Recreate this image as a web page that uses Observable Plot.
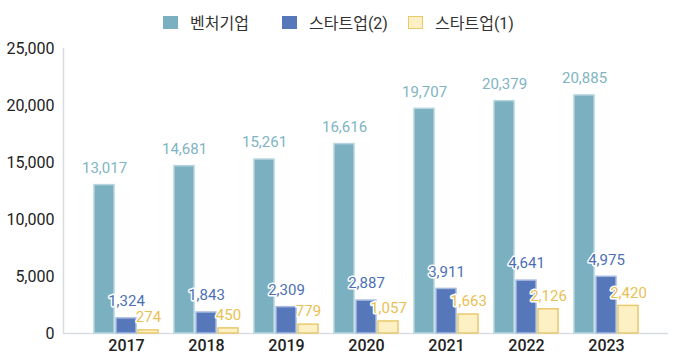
<!DOCTYPE html>
<html><head><meta charset="utf-8">
<script src="https://cdn.jsdelivr.net/npm/d3@7"></script>
<script src="https://cdn.jsdelivr.net/npm/@observablehq/plot@0.6"></script>
<style>
body{margin:0;background:#fff;font-family:Roboto,"Noto Sans CJK KR",sans-serif;}
#legend{height:38px;position:relative;font-size:16px;color:#333;}
.item{position:absolute;top:10px;display:flex;align-items:center;}
.sw{width:15px;height:13px;margin-right:12px;box-sizing:border-box;}
svg g[aria-label="y-axis tick label"] text{font-size:16px;}
svg g[aria-label="x-axis tick label"] text{font-size:16px;font-weight:500;}
</style></head>
<body>
<div id="legend"></div>
<div id="chart"></div>
<script>
const years = ["2017","2018","2019","2020","2021","2022","2023"];
const seriesNames = ["벤처기업","스타트업(2)","스타트업(1)"];
const venture = [13017,14681,15261,16616,19707,20379,20885];
const startup2 = [1324,1843,2309,2887,3911,4641,4975];
const startup1 = [274,450,779,1057,1663,2126,2420];
const yTicks = [0,5000,10000,15000,20000,25000];

const fills = ["#7ab0bf","#5677b9","#fcf0c4"];
const strokes = ["#b7d5de","#a6badf","#e9c96c"];
const labelColors = ["#7fb4c3","#4d70b4","#e9bf55"];

const legendX = [163,282,408];
const legend = document.getElementById("legend");
seriesNames.forEach((n,i)=>{
  const it=document.createElement("div");it.className="item";it.style.left=legendX[i]+"px";
  const sw=document.createElement("div");sw.className="sw";sw.style.background=fills[i];
  sw.style.border="1.5px solid "+(i==2?strokes[2]:fills[i]);
  const t=document.createElement("span");t.textContent=n;
  it.appendChild(sw);it.appendChild(t);legend.appendChild(it);
});

const data = [venture,startup2,startup1].map(arr=>years.map((y,i)=>({year:y,value:arr[i]})));
const insets = [[8,52],[30,30],[52,8]];
const dxs = [-22,0,22];
const dys = [-17,-17,-13];
const fmt = d3.format(",");

const marks = [
  Plot.ruleY([0],{stroke:"#d8dde2",strokeWidth:1.5}),
  Plot.frame({anchor:"left",stroke:"#d8dde2",strokeWidth:1.5})
];
data.forEach((d,i)=>{
  marks.push(Plot.barY(d,{x:"year",y:"value",fill:fills[i],stroke:strokes[i],strokeWidth:1.5,
    insetLeft:insets[i][0],insetRight:insets[i][1]}));
});
data.forEach((d,i)=>{
  marks.push(Plot.text(d,{x:"year",y:"value",text:d=>fmt(d.value),dx:dxs[i],dy:dys[i],
    fill:labelColors[i],stroke:"white",strokeWidth:3,fontSize:15,lineAnchor:"middle"}));
});

const chart = Plot.plot({
  width:680,height:320,
  marginLeft:63,marginRight:12,marginTop:10,marginBottom:25,
  style:{fontFamily:'Roboto,"Noto Sans CJK KR",sans-serif',fontSize:"15px",color:"#222",background:"white"},
  x:{domain:years,paddingInner:0,paddingOuter:0.26,label:null,tickSize:0,tickPadding:6},
  y:{domain:[0,25000],ticks:yTicks,tickFormat:fmt,label:null,tickSize:0,tickPadding:9},
  marks
});
document.getElementById("chart").appendChild(chart);
</script>
</body></html>
